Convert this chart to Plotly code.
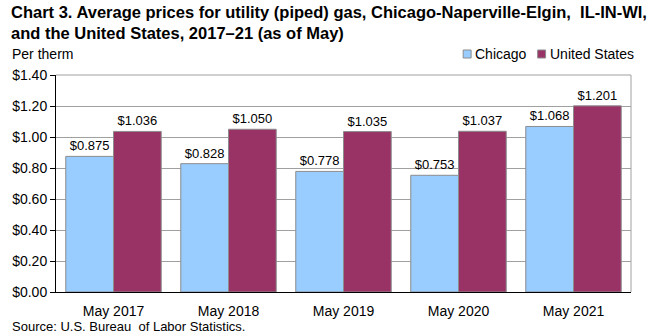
import plotly.graph_objects as go

categories = ["May 2017", "May 2018", "May 2019", "May 2020", "May 2021"]
chicago = [0.875, 0.828, 0.778, 0.753, 1.068]
us = [1.036, 1.050, 1.035, 1.037, 1.201]
tick_vals = [0, 0.2, 0.4, 0.6, 0.8, 1.0, 1.2, 1.4]
tick_text = ["$0.00", "$0.20", "$0.40", "$0.60", "$0.80", "$1.00", "$1.20", "$1.40"]
series_names = ["Chicago", "United States"]
series_colors = ["#99CCFF", "#993366"]

FONT = "Liberation Sans, Arial, sans-serif"

fig = go.Figure()
for name, vals, col in zip(series_names, [chicago, us], series_colors):
    fig.add_trace(go.Bar(
        x=categories, y=vals, name=name,
        marker=dict(color=col, line=dict(color="#8c8c8c", width=1)),
        text=[f"${v:.3f}" for v in vals], textposition="outside",
        textfont=dict(size=13, color="black", family=FONT), cliponaxis=False,
        showlegend=False,
    ))

fig.update_layout(
    width=660, height=334,
    margin=dict(l=52, r=29, t=75, b=42),
    paper_bgcolor="white", plot_bgcolor="white",
    font=dict(family=FONT, size=13, color="black"),
    barmode="group", bargap=0.17, bargroupgap=0,
    showlegend=False,
)

fig.update_yaxes(
    range=[0, 1.4], tickvals=tick_vals, ticktext=tick_text,
    showgrid=True, gridcolor="#a0a0a0", gridwidth=1,
    showline=True, linecolor="black", linewidth=1,
    ticks="outside", ticklen=5, tickcolor="black",
    tickfont=dict(size=14, family=FONT), zeroline=False,
)
fig.update_xaxes(
    showline=True, linecolor="black", linewidth=1,
    ticks="", tickfont=dict(size=14, family=FONT), ticklabelstandoff=6,
)
# box border top/right
fig.add_shape(type="line", xref="paper", yref="paper", x0=0, x1=1, y0=1, y1=1,
              line=dict(color="#a0a0a0", width=1))
fig.add_shape(type="line", xref="paper", yref="paper", x0=1, x1=1, y0=0, y1=1,
              line=dict(color="#a0a0a0", width=1))

# title
fig.add_annotation(
    text="<b>Chart 3. Average prices for utility (piped) gas, Chicago-Naperville-Elgin,  IL-IN-WI,<br>and the United States, 2017\u201321 (as of May)</b>",
    xref="paper", yref="paper", x=(5 - 52) / 579, y=(292 - 1) / 217, xanchor="left", yanchor="top",
    align="left", showarrow=False, font=dict(size=16.5, family=FONT, color="black"),
)

# legend (manual)
leg_x = [462, 537]
for name, col, lx in zip(series_names, series_colors, leg_x):
    fig.add_shape(type="rect", xref="paper", yref="paper",
                  x0=(lx - 52) / 579, x1=(lx + 8 - 52) / 579,
                  y0=(292 - 58) / 217, y1=(292 - 50) / 217,
                  fillcolor=col, line=dict(color="#8c8c8c", width=1))
    fig.add_annotation(text=name, xref="paper", yref="paper",
                       x=(lx + 10 - 52) / 579, y=(292 - 54) / 217,
                       xanchor="left", yanchor="middle", showarrow=False,
                       font=dict(size=14, family=FONT))

fig.add_annotation(text="Per therm", xref="paper", yref="paper", x=(6 - 52) / 579, y=(292 - 54) / 217,
                   xanchor="left", yanchor="middle", showarrow=False,
                   font=dict(size=14, family=FONT))
fig.add_annotation(text="Source: U.S. Bureau  of Labor Statistics.", xref="paper", yref="paper",
                   x=(6 - 52) / 579, y=(292 - 326) / 217, xanchor="left", yanchor="middle", showarrow=False,
                   font=dict(size=13, family=FONT))

fig.write_html("out.html")
